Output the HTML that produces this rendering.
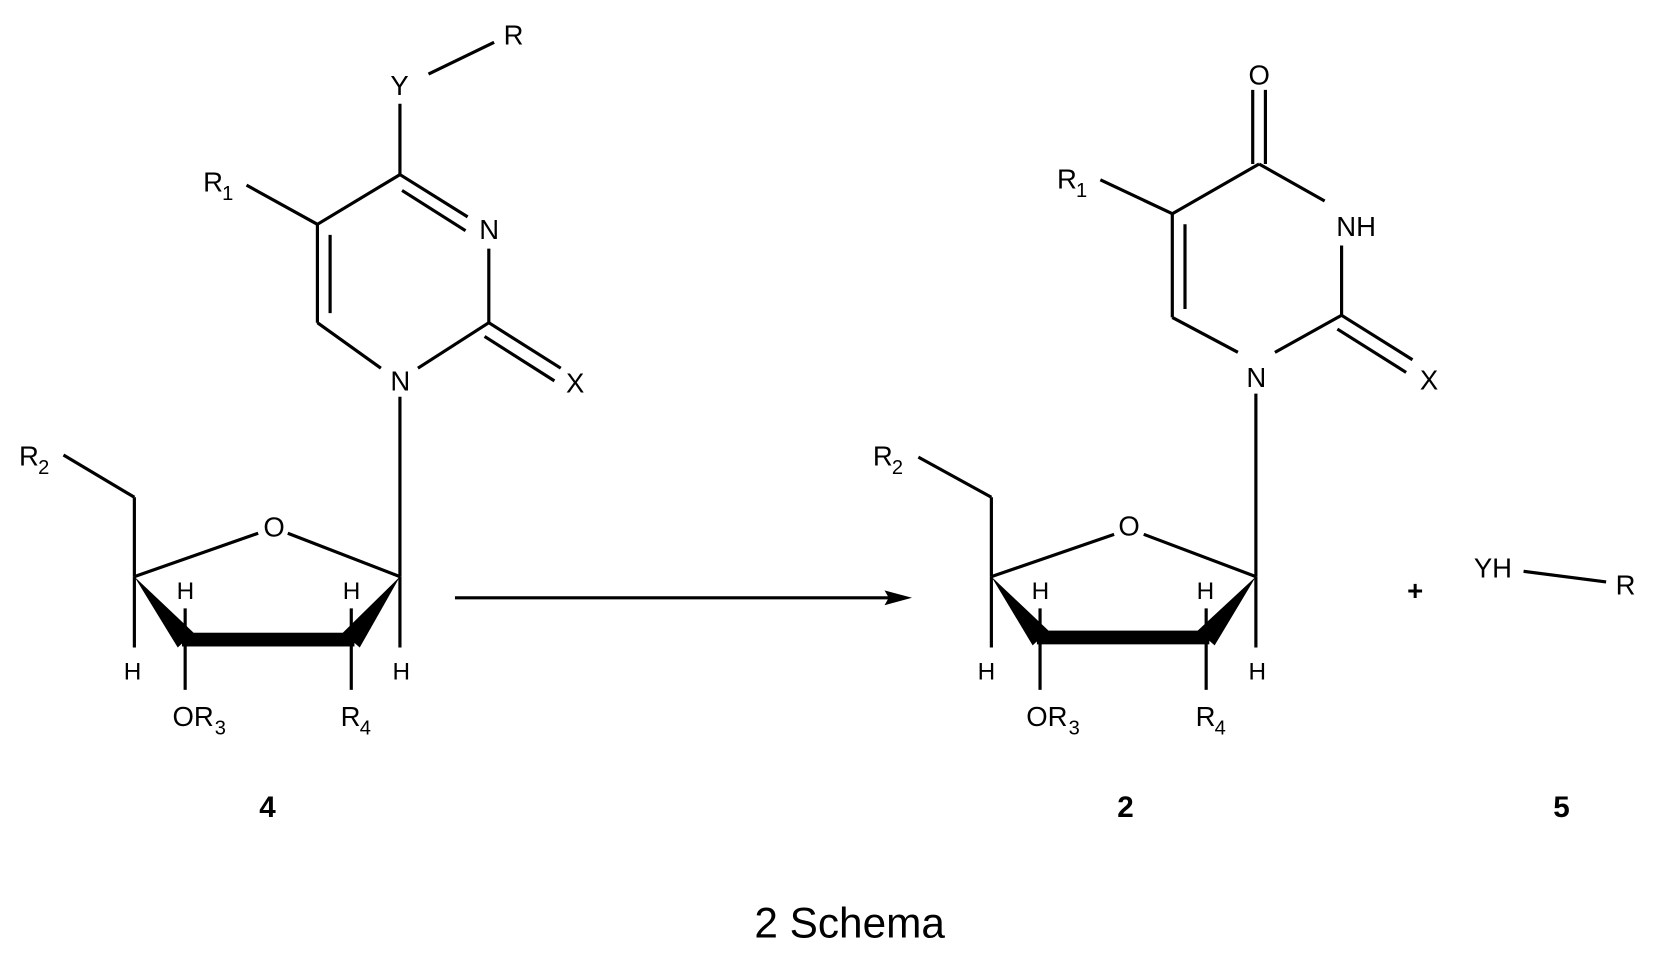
<!DOCTYPE html>
<html><head><meta charset="utf-8"><style>
html,body{margin:0;padding:0;background:#fff;}
svg{display:block;}
text{font-family:"Liberation Sans",Arial,sans-serif;fill:#000;}
.a{font-size:26px;}
.s{font-size:19px;}
.h{font-size:23px;}
</style></head><body>
<svg width="1659" height="966" viewBox="0 0 1568 913" preserveAspectRatio="none" xmlns="http://www.w3.org/2000/svg">
<rect width="1568" height="913" fill="#fff"/>
<g stroke="#000" stroke-width="3" fill="none" stroke-linecap="butt">
<line x1="405" y1="70" x2="467" y2="40"/>
<line x1="378" y1="98" x2="378" y2="165"/>
<line x1="378" y1="165" x2="442" y2="205"/>
<line x1="380" y1="180" x2="440" y2="218"/>
<line x1="462" y1="235" x2="462" y2="305"/>
<line x1="462" y1="305" x2="530" y2="348"/>
<line x1="458" y1="318" x2="524" y2="360"/>
<line x1="462" y1="305" x2="395" y2="348"/>
<line x1="360" y1="348" x2="300" y2="305"/>
<line x1="300" y1="305" x2="300" y2="212"/>
<line x1="312" y1="296" x2="312" y2="222"/>
<line x1="300" y1="212" x2="378" y2="165"/>
<line x1="300" y1="212" x2="233" y2="175"/>
<line x1="378" y1="375" x2="378" y2="545"/>
<line x1="378" y1="545" x2="272" y2="504"/>
<line x1="244" y1="504" x2="127" y2="545"/>
<line x1="127" y1="545" x2="127" y2="470"/>
<line x1="127" y1="470" x2="60" y2="430"/>
<line x1="127" y1="545" x2="127" y2="612"/>
<line x1="378" y1="545" x2="378" y2="612"/>
<line x1="175" y1="605" x2="175" y2="575"/>
<line x1="332" y1="605" x2="332" y2="575"/>
<line x1="175" y1="605" x2="175" y2="652"/>
<line x1="332" y1="605" x2="332" y2="652"/>
<line x1="1184" y1="85" x2="1184" y2="155"/>
<line x1="1196" y1="85" x2="1196" y2="155"/>
<line x1="1190" y1="155" x2="1252" y2="190"/>
<line x1="1268" y1="232" x2="1268" y2="298"/>
<line x1="1268" y1="298" x2="1335" y2="340"/>
<line x1="1264" y1="311" x2="1329" y2="352"/>
<line x1="1268" y1="298" x2="1205" y2="333"/>
<line x1="1170" y1="333" x2="1108" y2="300"/>
<line x1="1108" y1="300" x2="1108" y2="202"/>
<line x1="1120" y1="292" x2="1120" y2="212"/>
<line x1="1108" y1="202" x2="1190" y2="155"/>
<line x1="1108" y1="202" x2="1040" y2="170"/>
<line x1="1187" y1="372" x2="1187" y2="545"/>
<line x1="1187" y1="545" x2="1081" y2="505"/>
<line x1="1053" y1="505" x2="937" y2="545"/>
<line x1="937" y1="545" x2="937" y2="470"/>
<line x1="937" y1="470" x2="868" y2="432"/>
<line x1="937" y1="545" x2="937" y2="612"/>
<line x1="1187" y1="545" x2="1187" y2="612"/>
<line x1="983" y1="603" x2="983" y2="575"/>
<line x1="1140" y1="603" x2="1140" y2="575"/>
<line x1="983" y1="603" x2="983" y2="652"/>
<line x1="1140" y1="603" x2="1140" y2="652"/>
<line x1="1440" y1="540" x2="1518" y2="550"/>
<line x1="430" y1="565" x2="845" y2="565"/>
</g>
<polygon points="862,565 836,558 840,565 836,572" fill="#000"/>
<polygon points="127,545 183,598 168,612" fill="#000"/>
<polygon points="378,545 340,612 324,598" fill="#000"/>
<rect x="172" y="598" width="163" height="13" fill="#000"/>
<polygon points="937,545 991,596 976,610" fill="#000"/>
<polygon points="1187,545 1148,610 1132,596" fill="#000"/>
<rect x="980" y="596" width="163" height="13" fill="#000"/>
<text class="a" x="476" y="42">R</text>
<text class="a" x="369" y="90">Y</text>
<text class="a" x="453" y="226">N</text>
<text class="a" x="535" y="371">X</text>
<text class="a" x="369" y="369">N</text>
<text class="a" x="192" y="181">R</text><text class="s" x="210" y="189">1</text>
<text class="a" x="18" y="440">R</text><text class="s" x="36" y="448">2</text>
<text class="a" x="249" y="507">O</text>
<text class="h" x="167" y="566">H</text>
<text class="h" x="324" y="566">H</text>
<text class="h" x="117" y="642">H</text>
<text class="h" x="371" y="642">H</text>
<text class="a" x="163" y="686">OR</text><text class="s" x="203" y="694">3</text>
<text class="a" x="322" y="686">R</text><text class="s" x="340" y="694">4</text>
<text x="245" y="772" style="font-size:28px;font-weight:bold">4</text>
<text class="a" x="1180" y="80">O</text>
<text class="a" x="1263" y="223">NH</text>
<text class="a" x="1342" y="368">X</text>
<text class="a" x="1178" y="366">N</text>
<text class="a" x="999" y="178">R</text><text class="s" x="1017" y="186">1</text>
<text class="a" x="825" y="440">R</text><text class="s" x="843" y="448">2</text>
<text class="a" x="1057" y="506">O</text>
<text class="h" x="975" y="566">H</text>
<text class="h" x="1131" y="566">H</text>
<text class="h" x="924" y="642">H</text>
<text class="h" x="1180" y="642">H</text>
<text class="a" x="970" y="686">OR</text><text class="s" x="1010" y="694">3</text>
<text class="a" x="1130" y="686">R</text><text class="s" x="1148" y="694">4</text>
<text x="1330" y="567" style="font-size:26px;font-weight:bold">+</text>
<text class="a" x="1393" y="546">YH</text>
<text class="a" x="1527" y="562">R</text>
<text x="1056" y="772" style="font-size:28px;font-weight:bold">2</text>
<text x="1468" y="772" style="font-size:28px;font-weight:bold">5</text>
<text x="713" y="886" style="font-size:40px">2 Schema</text>
</svg>
</body></html>
